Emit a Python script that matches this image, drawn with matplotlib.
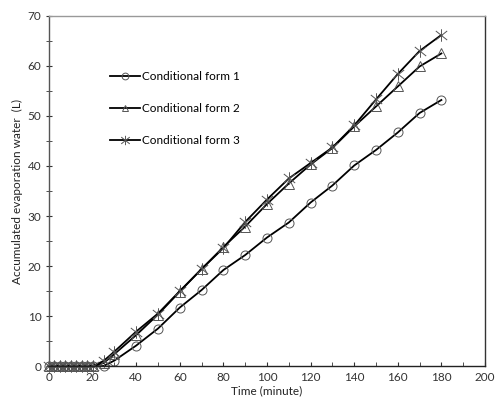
import matplotlib
matplotlib.use("Agg")
import matplotlib.pyplot as plt
from matplotlib.path import Path

# time (minute)
time = [0, 2.5, 5, 7.5, 10, 12.5, 15, 17.5, 20, 25, 30, 40, 50, 60, 70, 80, 90,
        100, 110, 120, 130, 140, 150, 160, 170, 180]

# accumulated evaporation water (L)
form1 = [0, 0, 0, 0, 0, 0, 0, 0, 0, 0, 1.1, 4.1, 7.5, 11.7, 15.2, 19.2, 22.2,
         25.7, 28.7, 32.7, 36.1, 40.1, 43.2, 46.7, 50.6, 53.2]
form2 = [0, 0, 0, 0, 0, 0, 0, 0, 0, 0.6, 2.4, 6.2, 10.3, 14.9, 19.4, 23.8, 27.9,
         32.4, 36.5, 40.3, 43.6, 47.9, 51.9, 55.9, 59.9, 62.5]
form3 = [0, 0, 0, 0, 0, 0, 0, 0, 0, 1.0, 2.9, 6.9, 10.5, 15.0, 19.4, 23.6, 28.8,
         33.3, 37.5, 40.6, 43.7, 48.1, 53.3, 58.4, 63.0, 66.2]

series = [
    ("Conditional form 1", form1, "o"),
    ("Conditional form 2", form2, "^"),
    ("Conditional form 3", form3, None),
]

# Excel style asterisk: an x with a vertical bar
star = Path([(-1, -0.8), (1, 0.8), (-1, 0.8), (1, -0.8), (0, -1.1), (0, 1.1)],
            [Path.MOVETO, Path.LINETO, Path.MOVETO, Path.LINETO,
             Path.MOVETO, Path.LINETO])

plt.rcParams["font.family"] = ["Lato", "DejaVu Sans"]

fig = plt.figure(figsize=(4.96, 4.09), dpi=100)
ax = fig.add_axes([0.0988, 0.105, 0.879, 0.856])

for label, vals, mk in series:
    ax.plot(time, vals, color="black", lw=1.3, clip_on=False,
            marker=mk if mk else star, markersize=6.5 if mk else 9,
            markerfacecolor="none", markeredgecolor="#555555",
            markeredgewidth=0.7, label=label)

ax.set_xlim(0, 200)
ax.set_ylim(0, 70)
ax.set_xticks(range(0, 201, 20))
ax.set_xticks(range(0, 201, 10), minor=True)
ax.set_yticks(range(0, 71, 10))
ax.set_yticks(range(0, 71, 5), minor=True)
ax.tick_params(axis="both", which="both", labelsize=8.5, colors="#333333")
ax.tick_params(axis="x", which="both", direction="in", length=3)
ax.tick_params(axis="y", which="both", direction="inout", length=4)
ax.tick_params(axis="x", pad=4)

ax.spines["top"].set_color("#999999")
ax.spines["right"].set_color("#333333")
ax.spines["left"].set_color("#555555")
ax.spines["bottom"].set_color("#222222")
for s in ax.spines.values():
    s.set_linewidth(1.0)

ax.set_xlabel("Time (minute)", fontsize=8.5, color="#222222", labelpad=2)
ax.set_ylabel("Accumulated evaporation water  (L)", fontsize=8.5,
              color="#222222", labelpad=3)

leg = ax.legend(loc="upper left", bbox_to_anchor=(0.115, 0.872), frameon=False,
                fontsize=8.5, handlelength=2.6, handletextpad=0.15,
                labelspacing=1.75, markerscale=0.75)

fig.savefig("out.png", dpi=100)
